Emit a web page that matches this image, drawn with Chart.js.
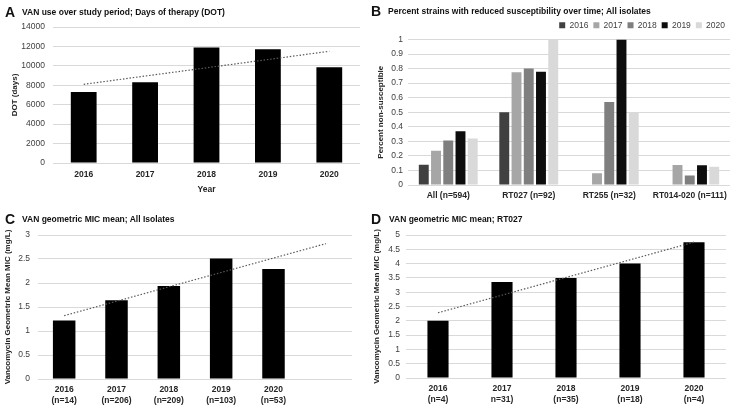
<!DOCTYPE html>
<html>
<head>
<meta charset="utf-8">
<script src="https://cdn.jsdelivr.net/npm/chart.js@4.4.1/dist/chart.umd.min.js"></script>
<style>
  body { margin: 0; background: #fff; width: 736px; height: 412px; position: relative; overflow: hidden;
         font-family: "Liberation Sans", Arial, sans-serif; }
  .panel { position: absolute; width: 368px; height: 206px; }
  .panel canvas { position: absolute; left: 0; top: 0; }
  .letter { position: absolute; font-weight: bold; font-size: 14px; color: #111; line-height: 14px; }
  .head { position: absolute; font-weight: bold; font-size: 8.5px; color: #111; white-space: nowrap; line-height: 10px; }
</style>
</head>
<body>
<div class="panel" style="left:0;top:0"><canvas id="chartA"></canvas></div>
<div class="panel" style="left:368px;top:0"><canvas id="chartB"></canvas></div>
<div class="panel" style="left:0;top:206px"><canvas id="chartC"></canvas></div>
<div class="panel" style="left:368px;top:206px"><canvas id="chartD"></canvas></div>

<div class="letter" style="left:5px;top:5px">A</div>
<div class="head" style="left:22px;top:7px">VAN use over study period; Days of therapy (DOT)</div>
<div class="letter" style="left:371px;top:4px">B</div>
<div class="head" style="left:388px;top:6px">Percent strains with reduced susceptibility over time; All isolates</div>
<div class="letter" style="left:5px;top:212px">C</div>
<div class="head" style="left:22px;top:214px">VAN geometric MIC mean; All Isolates</div>
<div class="letter" style="left:371px;top:212px">D</div>
<div class="head" style="left:389px;top:214px">VAN geometric MIC mean; RT027</div>

<script>
// ---------- DATA ----------
// A: days of therapy
const yearsA = ["2016", "2017", "2018", "2019", "2020"];
const dotDays = [7300, 8300, 11900, 11700, 9850];
const dotTrend = [8100, null, null, null, 11500];   // dotted trendline ends

// B: percent non-susceptible by strain group
const strainGroups = ["All (n=594)", "RT027 (n=92)", "RT255 (n=32)", "RT014-020 (n=111)"];
const legendYears = ["2016", "2017", "2018", "2019", "2020"];
const ns2016 = [0.14, 0.50, null, null];
const ns2017 = [0.235, 0.775, 0.08, 0.137];
const ns2018 = [0.306, 0.80, 0.571, 0.066];
const ns2019 = [0.37, 0.778, 1.0, 0.135];
const ns2020 = [0.32, 1.0, 0.5, 0.125];

// C: geometric MIC mean, all isolates
const labelsC = [["2016", "(n=14)"], ["2017", "(n=206)"], ["2018", "(n=209)"], ["2019", "(n=103)"], ["2020", "(n=53)"], ""];
const micAll = [1.22, 1.64, 1.94, 2.51, 2.29, null];
const micAllTrend = [1.32, null, null, null, null, 2.82];

// D: geometric MIC mean, RT027
const labelsD = [["2016", "(n=4)"], ["2017", "n=31)"], ["2018", "(n=35)"], ["2019", "(n=18)"], ["2020", "(n=4)"]];
const micRT027 = [2.0, 3.36, 3.5, 4.0, 4.75];
const micRT027Trend = [2.28, null, null, null, 4.75];

// ---------- STYLE ----------
const FONT = "'Liberation Sans', Arial, sans-serif";
const GRID = "#d9d9d9";
const TREND = "#595959";
const GREYS = ["#404040", "#a6a6a6", "#7f7f7f", "#0d0d0d", "#d9d9d9"];

Chart.defaults.font.family = FONT;
Chart.defaults.color = "#404040";
Chart.defaults.animation = false;
Chart.defaults.responsive = true;
Chart.defaults.maintainAspectRatio = false;

function yScale(min, max, step, title, width, tickPad, titlePad) {
  return {
    min: min, max: max,
    ticks: { stepSize: step, padding: tickPad, font: { size: 8.5 }, color: "#404040",
             callback: (v) => String(v) },
    grid: { color: GRID, drawTicks: false },
    border: { display: false },
    title: { display: true, text: title, font: { size: 8, weight: "bold" }, color: "#262626",
             padding: { top: titlePad, bottom: 0 } },
    afterFit: (s) => { s.width = width; },
  };
}

function xScale(height, tickPad, title, titlePad) {
  const sc = {
    grid: { display: false, drawTicks: false },
    border: { display: false },
    ticks: { padding: tickPad, font: { size: 8.5, weight: "bold" }, color: "#262626", maxRotation: 0, autoSkip: false },
    afterFit: (s) => { s.height = height; },
  };
  if (title) {
    sc.title = { display: true, text: title, font: { size: 8.5, weight: "bold" }, color: "#262626",
                 padding: { top: 0, bottom: titlePad } };
  }
  return sc;
}

function trendSet(data) {
  return {
    type: "line", data: data, spanGaps: true, order: 0,
    borderColor: TREND, borderWidth: 1.2, borderDash: [1.5, 1.8],
    pointRadius: 0, fill: false,
  };
}

// ---- A ----
new Chart(document.getElementById("chartA"), {
  type: "bar",
  data: {
    labels: yearsA,
    datasets: [
      trendSet(dotTrend),
      { type: "bar", data: dotDays, order: 1, backgroundColor: "#000", barPercentage: 0.42, categoryPercentage: 1 },
    ],
  },
  options: {
    layout: { padding: { top: 27, right: 8, left: 0, bottom: 0 } },
    plugins: { legend: { display: false }, tooltip: { enabled: false } },
    scales: {
      x: xScale(43, 7, "Year", 11),
      y: yScale(0, 14000, 2000, "DOT (days)", 53, 8, 10),
    },
  },
});

// ---- B ----
const nsSeries = [ns2016, ns2017, ns2018, ns2019, ns2020];
new Chart(document.getElementById("chartB"), {
  type: "bar",
  data: {
    labels: strainGroups,
    datasets: legendYears.map((yr, i) => ({
      label: yr, data: nsSeries[i], backgroundColor: GREYS[i],
      barPercentage: 0.81, categoryPercentage: 0.76,
    })),
  },
  options: {
    layout: { padding: { top: 16, right: 6, left: 0, bottom: 0 } },
    plugins: {
      tooltip: { enabled: false },
      legend: {
        display: true, position: "top", align: "end",
        labels: { boxWidth: 6, boxHeight: 6, padding: 5, font: { size: 8.5 }, color: "#404040" },
      },
    },
    scales: {
      x: xScale(21, 6),
      y: yScale(0, 1, 0.1, "Percent non-susceptible", 40, 5, 8),
    },
  },
});

// ---- C ----
new Chart(document.getElementById("chartC"), {
  type: "bar",
  data: {
    labels: labelsC,
    datasets: [
      trendSet(micAllTrend),
      { type: "bar", data: micAll, order: 1, backgroundColor: "#000", barPercentage: 0.43, categoryPercentage: 1 },
    ],
  },
  options: {
    layout: { padding: { top: 29, right: 16, left: 0, bottom: 0 } },
    plugins: { legend: { display: false }, tooltip: { enabled: false } },
    scales: {
      x: xScale(33, 6),
      y: yScale(0, 3, 0.5, "Vancomycin Geometric Mean MIC (mg/L)", 38, 8, 3),
    },
  },
});

// ---- D ----
new Chart(document.getElementById("chartD"), {
  type: "bar",
  data: {
    labels: labelsD,
    datasets: [
      trendSet(micRT027Trend),
      { type: "bar", data: micRT027, order: 1, backgroundColor: "#000", barPercentage: 0.33, categoryPercentage: 1 },
    ],
  },
  options: {
    layout: { padding: { top: 29, right: 10, left: 0, bottom: 0 } },
    plugins: { legend: { display: false }, tooltip: { enabled: false } },
    scales: {
      x: xScale(34, 6),
      y: yScale(0, 5, 0.5, "Vancomycin Geometric Mean MIC (mg/L)", 38, 6, 4),
    },
  },
});
</script>
</body>
</html>
